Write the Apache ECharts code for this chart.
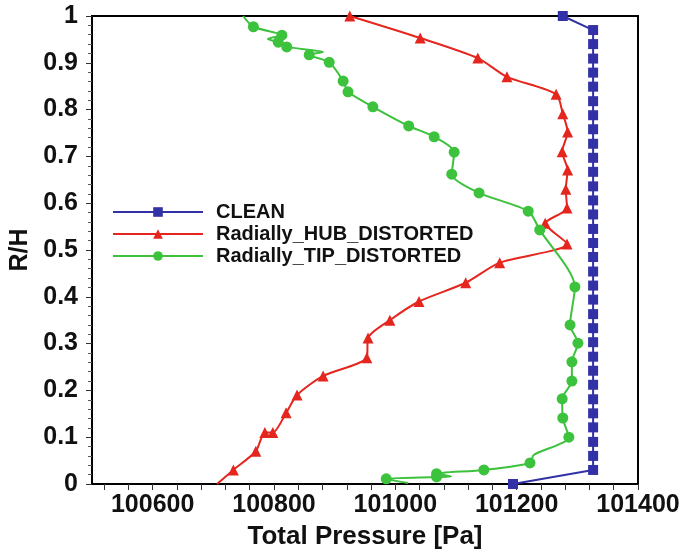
<!DOCTYPE html>
<html>
<head>
<meta charset="utf-8">
<script src="https://cdn.jsdelivr.net/npm/echarts@6/dist/echarts.min.js"></script>
<style>html,body{margin:0;padding:0;background:#fff;}#c{width:681px;height:550px;}</style>
</head>
<body>
<div id="c"></div>
<script>
// ---- data ----
const seriesNames = ['CLEAN', 'Radially_HUB_DISTORTED', 'Radially_TIP_DISTORTED'];

const cleanData = [
  [101276, 1.0],
  [101326, 0.970], [101326, 0.940], [101326, 0.909], [101326, 0.879], [101326, 0.849],
  [101326, 0.818], [101326, 0.788], [101326, 0.758], [101326, 0.727], [101326, 0.697],
  [101326, 0.667], [101326, 0.636], [101326, 0.606], [101326, 0.576], [101326, 0.545],
  [101326, 0.515], [101326, 0.485], [101326, 0.454], [101326, 0.424], [101326, 0.394],
  [101326, 0.363], [101326, 0.333], [101326, 0.303], [101326, 0.272], [101326, 0.242],
  [101326, 0.212], [101326, 0.181], [101326, 0.151], [101326, 0.121], [101326, 0.090],
  [101326, 0.060], [101326, 0.030],
  [101194, 0.0]
];

const hubData = [
  [100925, 1.0], [101041, 0.953], [101136, 0.910], [101184, 0.870], [101265, 0.833],
  [101276, 0.791], [101284, 0.752], [101275, 0.710], [101284, 0.671], [101281, 0.630],
  [101283, 0.590], [101247, 0.557], [101283, 0.513], [101172, 0.473], [101116, 0.430],
  [101039, 0.390], [100991, 0.350], [100955, 0.312], [100953, 0.270], [100881, 0.231],
  [100838, 0.190], [100820, 0.152], [100798, 0.110], [100785, 0.110], [100770, 0.070],
  [100733, 0.030], [100706, 0.0]
];

const tipData = [
  [100749, 1.0], [100766, 0.977], [100813, 0.959], [100790, 0.951], [100807, 0.944],
  [100821, 0.934], [100881, 0.923], [100858, 0.917], [100891, 0.901], [100914, 0.861],
  [100922, 0.838], [100963, 0.806], [101022, 0.765], [101064, 0.742], [101097, 0.709],
  [101093, 0.662], [101138, 0.622], [101219, 0.583], [101238, 0.543], [101296, 0.421],
  [101288, 0.340], [101301, 0.301], [101291, 0.261], [101291, 0.220], [101275, 0.182],
  [101276, 0.141], [101286, 0.100], [101228, 0.062], [101222, 0.045], [101146, 0.030],
  [101068, 0.022], [101092, 0.016], [101068, 0.015], [100985, 0.011], [101021, 0.002]
];

const xLabelValues = [100600, 100800, 101000, 101200, 101400];
const xTickValues = [100520, 100560, 100600, 100640, 100680, 100720, 100760, 100800,
  100840, 100880, 100920, 100960, 101000, 101040, 101080, 101120, 101160, 101200,
  101240, 101280, 101320, 101360, 101400];

// ---- chart ----
const FONT = "'Liberation Sans', Arial, sans-serif";
const hubUnmarked = new Set([hubData.length - 1]);
const tipUnmarked = new Set([0, 3, 6, 27, 31, tipData.length - 1]);

const chart = echarts.init(document.getElementById('c'));
chart.setOption({
  animation: false,
  backgroundColor: '#fff',
  grid: { left: 92, right: 43, top: 16, bottom: 66, containLabel: false, outerBoundsMode: 'none',
          show: true, borderColor: '#000', borderWidth: 2, backgroundColor: 'transparent' },
  legend: {
    show: true,
    orient: 'vertical',
    left: 112,
    top: 202,
    padding: 0,
    itemWidth: 90,
    itemHeight: 12,
    itemGap: 2,
    data: seriesNames,
    textStyle: { fontFamily: FONT, fontWeight: 'bold', fontSize: 20, color: '#111', padding: [0, 0, 0, 8] }
  },
  xAxis: {
    type: 'value',
    min: 100500,
    max: 101400,
    name: 'Total Pressure [Pa]',
    nameLocation: 'middle',
    nameGap: 40,
    nameTextStyle: { fontFamily: FONT, fontWeight: 'bold', fontSize: 26, color: '#111' },
    axisLine: { show: true, onZero: false, lineStyle: { color: '#000', width: 2 } },
    axisTick: { show: true, customValues: xTickValues, length: 6, inside: false, lineStyle: { color: '#333', width: 1 } },
    axisLabel: { customValues: xLabelValues, formatter: v => String(v), fontFamily: FONT, fontWeight: 'bold', fontSize: 25, color: '#111', margin: 9 },
    splitLine: { show: false }
  },
  yAxis: {
    type: 'value',
    min: 0,
    max: 1,
    interval: 0.1,
    name: 'R/H',
    nameLocation: 'middle',
    nameGap: 57,
    nameTextStyle: { fontFamily: FONT, fontWeight: 'bold', fontSize: 25, color: '#111' },
    axisLine: { show: true, onZero: false, lineStyle: { color: '#000', width: 2 } },
    axisTick: { show: true, length: 6, lineStyle: { color: '#333', width: 1 } },
    minorTick: { show: true, splitNumber: 5, length: 4, lineStyle: { color: '#555', width: 1 } },
    axisLabel: { fontFamily: FONT, fontWeight: 'bold', fontSize: 25, color: '#111', margin: 14 },
    splitLine: { show: false }
  },
  series: [
    {
      name: seriesNames[0], type: 'line', data: cleanData,
      symbol: 'rect', symbolSize: 10, showSymbol: true, clip: false,
      itemStyle: { color: '#3232a6' },
      lineStyle: { color: '#3232a6', width: 2 }
    },
    {
      name: seriesNames[1], type: 'line', data: hubData, smooth: 0.25,
      symbol: 'triangle', symbolSize: (v, p) => hubUnmarked.has(p.dataIndex) ? 0 : 11,
      showSymbol: true, clip: false,
      itemStyle: { color: '#e5261f' },
      lineStyle: { color: '#e5261f', width: 2 }
    },
    {
      name: seriesNames[2], type: 'line', data: tipData, smooth: 0.25,
      symbol: 'circle', symbolSize: (v, p) => tipUnmarked.has(p.dataIndex) ? 0 : 11,
      showSymbol: true, clip: false,
      itemStyle: { color: '#3cc23c' },
      lineStyle: { color: '#3cc23c', width: 2 }
    }
  ]
});
</script>
</body>
</html>
